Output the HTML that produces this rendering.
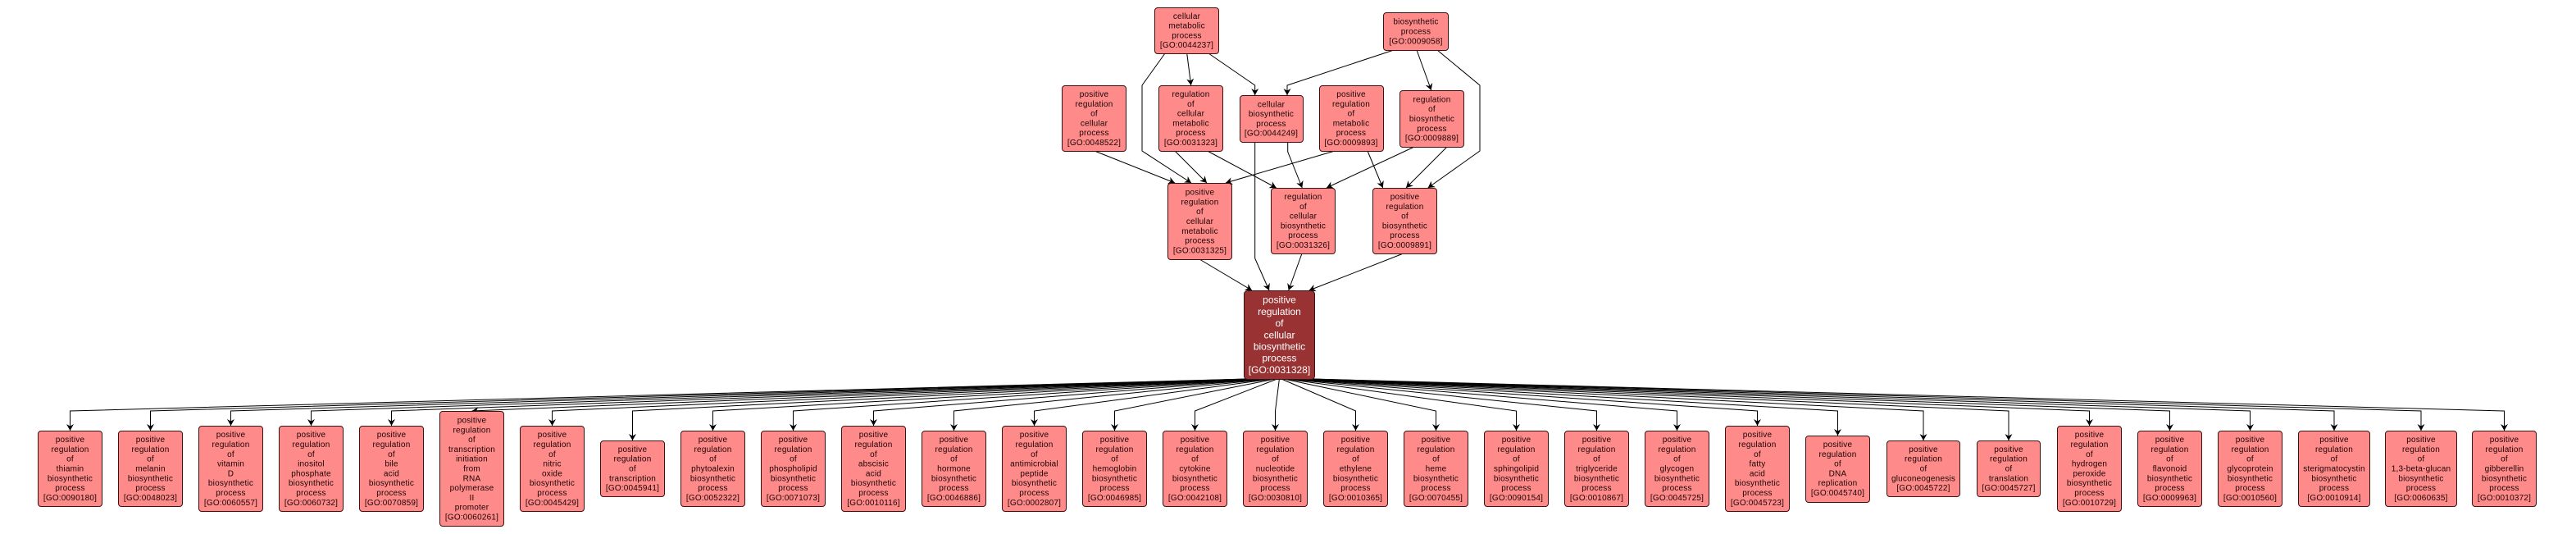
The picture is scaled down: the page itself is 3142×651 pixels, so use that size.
<!DOCTYPE html>
<html><head><meta charset="utf-8"><style>
html,body{margin:0;padding:0;background:#fff}
svg{display:block}
.n{fill:#ff8a8a;stroke:#3a1212;stroke-width:1}
.m{fill:#993333;stroke:#3a1212;stroke-width:1}
.t{font-family:"Liberation Sans",sans-serif;font-size:10px;letter-spacing:0.2px;text-anchor:middle;fill:#1a0505}
.w{font-family:"Liberation Sans",sans-serif;font-size:12px;text-anchor:middle;fill:#ffffff}
.e{fill:none;stroke:#000;stroke-width:1}
</style></head><body>
<svg width="3142" height="651" viewBox="0 0 3142 651" xmlns="http://www.w3.org/2000/svg">
<defs><marker id="a" viewBox="0 0 8 9" refX="8" refY="4.5" markerWidth="8" markerHeight="9" markerUnits="userSpaceOnUse" orient="auto"><path d="M0,0 L8,4.5 L0,9 L2.5,4.5 Z" fill="#000"/></marker></defs>
<rect width="3142" height="651" fill="#fff"/>

<!-- upper edges -->
<g class="e" marker-end="url(#a)">
<path d="M1447.7,65 L1452.7,104" marker-end="url(#a)"/>
<path d="M1474,65 L1530.7,104 L1530.7,116" marker-end="url(#a)"/>
<path d="M1421,65 L1393,104 L1393,184 L1453,223" marker-end="url(#a)"/>
<path d="M1700,61 L1570,104 L1570,116" marker-end="url(#a)"/>
<path d="M1728,61 L1745.7,110" marker-end="url(#a)"/>
<path d="M1753,61 L1805,104 L1805,184 L1741.7,229" marker-end="url(#a)"/>
<path d="M1335,184 L1433,223" marker-end="url(#a)"/>
<path d="M1433,184 L1472,223" marker-end="url(#a)"/>
<path d="M1472.7,184 L1556.7,229" marker-end="url(#a)"/>
<path d="M1628,184 L1495,223" marker-end="url(#a)"/>
<path d="M1570.7,173 L1570.7,185 L1588.3,229" marker-end="url(#a)"/>
<path d="M1668,184 L1686.7,229" marker-end="url(#a)"/>
<path d="M1725,179 L1618,229" marker-end="url(#a)"/>
<path d="M1765,179 L1715,229" marker-end="url(#a)"/>
<path d="M1530.7,173 L1530.7,315 L1548,354" marker-end="url(#a)"/>
<path d="M1463,316 L1527,354" marker-end="url(#a)"/>
<path d="M1588,309 L1571.7,354" marker-end="url(#a)"/>
<path d="M1711.7,309 L1596.7,354" marker-end="url(#a)"/>
</g>

<!-- lower edges -->
<g class="e">
<path d="M1520.7,462 L85.5,501 L85.5,525" marker-end="url(#a)"/>
<path d="M1523.3,462 L183.5,501 L183.5,525" marker-end="url(#a)"/>
<path d="M1526,462 L281.5,501 L281.5,519" marker-end="url(#a)"/>
<path d="M1528.6,462 L379.5,501 L379.5,519" marker-end="url(#a)"/>
<path d="M1531.3,462 L477.5,501 L477.5,519" marker-end="url(#a)"/>
<path d="M1533.9,462 L575.5,501" marker-end="url(#a)"/>
<path d="M1536.6,462 L673.5,501 L673.5,519" marker-end="url(#a)"/>
<path d="M1539.2,462 L771.5,501 L771.5,537" marker-end="url(#a)"/>
<path d="M1541.8,462 L869.5,501 L869.5,525" marker-end="url(#a)"/>
<path d="M1544.5,462 L967.5,501 L967.5,525" marker-end="url(#a)"/>
<path d="M1547.1,462 L1065.5,501 L1065.5,519" marker-end="url(#a)"/>
<path d="M1549.8,462 L1163.5,501 L1163.5,525" marker-end="url(#a)"/>
<path d="M1552.4,462 L1261.5,501 L1261.5,519" marker-end="url(#a)"/>
<path d="M1555.1,462 L1359.5,501 L1359.5,525" marker-end="url(#a)"/>
<path d="M1557.7,462 L1457.5,501 L1457.5,525" marker-end="url(#a)"/>
<path d="M1560.4,462 L1555.5,501 L1555.5,525" marker-end="url(#a)"/>
<path d="M1563,462 L1653.5,501 L1653.5,525" marker-end="url(#a)"/>
<path d="M1565.7,462 L1751.5,501 L1751.5,525" marker-end="url(#a)"/>
<path d="M1568.3,462 L1849.5,501 L1849.5,525" marker-end="url(#a)"/>
<path d="M1570.9,462 L1947.5,501 L1947.5,525" marker-end="url(#a)"/>
<path d="M1573.6,462 L2045.5,501 L2045.5,525" marker-end="url(#a)"/>
<path d="M1576.2,462 L2143.5,501 L2143.5,519" marker-end="url(#a)"/>
<path d="M1578.9,462 L2241.5,501 L2241.5,531" marker-end="url(#a)"/>
<path d="M1581.7,462 L2346,501 L2346,537" marker-end="url(#a)"/>
<path d="M1584.5,462 L2450,501 L2450,537" marker-end="url(#a)"/>
<path d="M1587.2,462 L2548.5,501 L2548.5,519" marker-end="url(#a)"/>
<path d="M1589.8,462 L2646.5,501 L2646.5,525" marker-end="url(#a)"/>
<path d="M1592.5,462 L2744.5,501 L2744.5,525" marker-end="url(#a)"/>
<path d="M1595.2,462 L2847,501 L2847,525" marker-end="url(#a)"/>
<path d="M1598.1,462 L2953,501 L2953,525" marker-end="url(#a)"/>
<path d="M1600.8,462 L3054.5,501 L3054.5,525" marker-end="url(#a)"/>
</g>

<!-- upper nodes -->
<rect class="n" x="1408.5" y="9.5" width="78" height="56" rx="3.5"/>
<text class="t" x="1447.5" y="22.8"><tspan x="1447.5">cellular</tspan><tspan x="1447.5" dy="11.8">metabolic</tspan><tspan x="1447.5" dy="11.8">process</tspan><tspan x="1447.5" dy="11.8">[GO:0044237]</tspan></text>

<rect class="n" x="1687.5" y="15.5" width="79" height="46" rx="3.5"/>
<text class="t" x="1727" y="29.7"><tspan x="1727">biosynthetic</tspan><tspan x="1727" dy="11.8">process</tspan><tspan x="1727" dy="11.8">[GO:0009058]</tspan></text>

<rect class="n" x="1295.5" y="104.5" width="78" height="80" rx="3.5"/>
<text class="t" x="1334.5" y="118"><tspan x="1334.5">positive</tspan><tspan x="1334.5" dy="11.8">regulation</tspan><tspan x="1334.5" dy="11.8">of</tspan><tspan x="1334.5" dy="11.8">cellular</tspan><tspan x="1334.5" dy="11.8">process</tspan><tspan x="1334.5" dy="11.8">[GO:0048522]</tspan></text>

<rect class="n" x="1413.5" y="104.5" width="78" height="80" rx="3.5"/>
<text class="t" x="1452.5" y="118"><tspan x="1452.5">regulation</tspan><tspan x="1452.5" dy="11.8">of</tspan><tspan x="1452.5" dy="11.8">cellular</tspan><tspan x="1452.5" dy="11.8">metabolic</tspan><tspan x="1452.5" dy="11.8">process</tspan><tspan x="1452.5" dy="11.8">[GO:0031323]</tspan></text>

<rect class="n" x="1512.5" y="116.5" width="77" height="57" rx="3.5"/>
<text class="t" x="1550.5" y="130.3"><tspan x="1550.5">cellular</tspan><tspan x="1550.5" dy="11.8">biosynthetic</tspan><tspan x="1550.5" dy="11.8">process</tspan><tspan x="1550.5" dy="11.8">[GO:0044249]</tspan></text>

<rect class="n" x="1609.5" y="104.5" width="78" height="80" rx="3.5"/>
<text class="t" x="1648" y="118"><tspan x="1648">positive</tspan><tspan x="1648" dy="11.8">regulation</tspan><tspan x="1648" dy="11.8">of</tspan><tspan x="1648" dy="11.8">metabolic</tspan><tspan x="1648" dy="11.8">process</tspan><tspan x="1648" dy="11.8">[GO:0009893]</tspan></text>

<rect class="n" x="1707.5" y="110.5" width="78" height="69" rx="3.5"/>
<text class="t" x="1746.5" y="124.4"><tspan x="1746.5">regulation</tspan><tspan x="1746.5" dy="11.8">of</tspan><tspan x="1746.5" dy="11.8">biosynthetic</tspan><tspan x="1746.5" dy="11.8">process</tspan><tspan x="1746.5" dy="11.8">[GO:0009889]</tspan></text>

<rect class="n" x="1424.5" y="223.5" width="78" height="93" rx="3.5"/>
<text class="t" x="1463.5" y="237.6"><tspan x="1463.5">positive</tspan><tspan x="1463.5" dy="11.8">regulation</tspan><tspan x="1463.5" dy="11.8">of</tspan><tspan x="1463.5" dy="11.8">cellular</tspan><tspan x="1463.5" dy="11.8">metabolic</tspan><tspan x="1463.5" dy="11.8">process</tspan><tspan x="1463.5" dy="11.8">[GO:0031325]</tspan></text>

<rect class="n" x="1550.5" y="229.5" width="78" height="80" rx="3.5"/>
<text class="t" x="1589.5" y="243"><tspan x="1589.5">regulation</tspan><tspan x="1589.5" dy="11.8">of</tspan><tspan x="1589.5" dy="11.8">cellular</tspan><tspan x="1589.5" dy="11.8">biosynthetic</tspan><tspan x="1589.5" dy="11.8">process</tspan><tspan x="1589.5" dy="11.8">[GO:0031326]</tspan></text>

<rect class="n" x="1674.5" y="229.5" width="78" height="80" rx="3.5"/>
<text class="t" x="1713.5" y="243"><tspan x="1713.5">positive</tspan><tspan x="1713.5" dy="11.8">regulation</tspan><tspan x="1713.5" dy="11.8">of</tspan><tspan x="1713.5" dy="11.8">biosynthetic</tspan><tspan x="1713.5" dy="11.8">process</tspan><tspan x="1713.5" dy="11.8">[GO:0009891]</tspan></text>

<rect class="m" x="1517.5" y="354.5" width="86" height="108" rx="4"/>
<text class="w" x="1560.5" y="369.7"><tspan x="1560.5">positive</tspan><tspan x="1560.5" dy="14.2">regulation</tspan><tspan x="1560.5" dy="14.2">of</tspan><tspan x="1560.5" dy="14.2">cellular</tspan><tspan x="1560.5" dy="14.2">biosynthetic</tspan><tspan x="1560.5" dy="14.2">process</tspan><tspan x="1560.5" dy="14.2">[GO:0031328]</tspan></text>

<!-- bottom nodes -->
<rect class="n" x="46.5" y="525.5" width="78" height="92" rx="3.5"/>
<text class="t" x="85.5" y="539.1"><tspan x="85.5">positive</tspan><tspan x="85.5" dy="11.8">regulation</tspan><tspan x="85.5" dy="11.8">of</tspan><tspan x="85.5" dy="11.8">thiamin</tspan><tspan x="85.5" dy="11.8">biosynthetic</tspan><tspan x="85.5" dy="11.8">process</tspan><tspan x="85.5" dy="11.8">[GO:0090180]</tspan></text>

<rect class="n" x="144.5" y="525.5" width="78" height="92" rx="3.5"/>
<text class="t" x="183.5" y="539.1"><tspan x="183.5">positive</tspan><tspan x="183.5" dy="11.8">regulation</tspan><tspan x="183.5" dy="11.8">of</tspan><tspan x="183.5" dy="11.8">melanin</tspan><tspan x="183.5" dy="11.8">biosynthetic</tspan><tspan x="183.5" dy="11.8">process</tspan><tspan x="183.5" dy="11.8">[GO:0048023]</tspan></text>

<rect class="n" x="242.5" y="519.5" width="78" height="104" rx="3.5"/>
<text class="t" x="281.5" y="533.2"><tspan x="281.5">positive</tspan><tspan x="281.5" dy="11.8">regulation</tspan><tspan x="281.5" dy="11.8">of</tspan><tspan x="281.5" dy="11.8">vitamin</tspan><tspan x="281.5" dy="11.8">D</tspan><tspan x="281.5" dy="11.8">biosynthetic</tspan><tspan x="281.5" dy="11.8">process</tspan><tspan x="281.5" dy="11.8">[GO:0060557]</tspan></text>

<rect class="n" x="340.5" y="519.5" width="78" height="104" rx="3.5"/>
<text class="t" x="379.5" y="533.2"><tspan x="379.5">positive</tspan><tspan x="379.5" dy="11.8">regulation</tspan><tspan x="379.5" dy="11.8">of</tspan><tspan x="379.5" dy="11.8">inositol</tspan><tspan x="379.5" dy="11.8">phosphate</tspan><tspan x="379.5" dy="11.8">biosynthetic</tspan><tspan x="379.5" dy="11.8">process</tspan><tspan x="379.5" dy="11.8">[GO:0060732]</tspan></text>

<rect class="n" x="438.5" y="519.5" width="78" height="104" rx="3.5"/>
<text class="t" x="477.5" y="533.2"><tspan x="477.5">positive</tspan><tspan x="477.5" dy="11.8">regulation</tspan><tspan x="477.5" dy="11.8">of</tspan><tspan x="477.5" dy="11.8">bile</tspan><tspan x="477.5" dy="11.8">acid</tspan><tspan x="477.5" dy="11.8">biosynthetic</tspan><tspan x="477.5" dy="11.8">process</tspan><tspan x="477.5" dy="11.8">[GO:0070859]</tspan></text>

<rect class="n" x="536.5" y="501.5" width="78" height="140" rx="3.5"/>
<text class="t" x="575.5" y="515.5"><tspan x="575.5">positive</tspan><tspan x="575.5" dy="11.8">regulation</tspan><tspan x="575.5" dy="11.8">of</tspan><tspan x="575.5" dy="11.8">transcription</tspan><tspan x="575.5" dy="11.8">initiation</tspan><tspan x="575.5" dy="11.8">from</tspan><tspan x="575.5" dy="11.8">RNA</tspan><tspan x="575.5" dy="11.8">polymerase</tspan><tspan x="575.5" dy="11.8">II</tspan><tspan x="575.5" dy="11.8">promoter</tspan><tspan x="575.5" dy="11.8">[GO:0060261]</tspan></text>

<rect class="n" x="634.5" y="519.5" width="78" height="104" rx="3.5"/>
<text class="t" x="673.5" y="533.2"><tspan x="673.5">positive</tspan><tspan x="673.5" dy="11.8">regulation</tspan><tspan x="673.5" dy="11.8">of</tspan><tspan x="673.5" dy="11.8">nitric</tspan><tspan x="673.5" dy="11.8">oxide</tspan><tspan x="673.5" dy="11.8">biosynthetic</tspan><tspan x="673.5" dy="11.8">process</tspan><tspan x="673.5" dy="11.8">[GO:0045429]</tspan></text>

<rect class="n" x="732.5" y="537.5" width="78" height="68" rx="3.5"/>
<text class="t" x="771.5" y="550.9"><tspan x="771.5">positive</tspan><tspan x="771.5" dy="11.8">regulation</tspan><tspan x="771.5" dy="11.8">of</tspan><tspan x="771.5" dy="11.8">transcription</tspan><tspan x="771.5" dy="11.8">[GO:0045941]</tspan></text>

<rect class="n" x="830.5" y="525.5" width="78" height="92" rx="3.5"/>
<text class="t" x="869.5" y="539.1"><tspan x="869.5">positive</tspan><tspan x="869.5" dy="11.8">regulation</tspan><tspan x="869.5" dy="11.8">of</tspan><tspan x="869.5" dy="11.8">phytoalexin</tspan><tspan x="869.5" dy="11.8">biosynthetic</tspan><tspan x="869.5" dy="11.8">process</tspan><tspan x="869.5" dy="11.8">[GO:0052322]</tspan></text>

<rect class="n" x="928.5" y="525.5" width="78" height="92" rx="3.5"/>
<text class="t" x="967.5" y="539.1"><tspan x="967.5">positive</tspan><tspan x="967.5" dy="11.8">regulation</tspan><tspan x="967.5" dy="11.8">of</tspan><tspan x="967.5" dy="11.8">phospholipid</tspan><tspan x="967.5" dy="11.8">biosynthetic</tspan><tspan x="967.5" dy="11.8">process</tspan><tspan x="967.5" dy="11.8">[GO:0071073]</tspan></text>

<rect class="n" x="1026.5" y="519.5" width="78" height="104" rx="3.5"/>
<text class="t" x="1065.5" y="533.2"><tspan x="1065.5">positive</tspan><tspan x="1065.5" dy="11.8">regulation</tspan><tspan x="1065.5" dy="11.8">of</tspan><tspan x="1065.5" dy="11.8">abscisic</tspan><tspan x="1065.5" dy="11.8">acid</tspan><tspan x="1065.5" dy="11.8">biosynthetic</tspan><tspan x="1065.5" dy="11.8">process</tspan><tspan x="1065.5" dy="11.8">[GO:0010116]</tspan></text>

<rect class="n" x="1124.5" y="525.5" width="78" height="92" rx="3.5"/>
<text class="t" x="1163.5" y="539.1"><tspan x="1163.5">positive</tspan><tspan x="1163.5" dy="11.8">regulation</tspan><tspan x="1163.5" dy="11.8">of</tspan><tspan x="1163.5" dy="11.8">hormone</tspan><tspan x="1163.5" dy="11.8">biosynthetic</tspan><tspan x="1163.5" dy="11.8">process</tspan><tspan x="1163.5" dy="11.8">[GO:0046886]</tspan></text>

<rect class="n" x="1222.5" y="519.5" width="78" height="104" rx="3.5"/>
<text class="t" x="1261.5" y="533.2"><tspan x="1261.5">positive</tspan><tspan x="1261.5" dy="11.8">regulation</tspan><tspan x="1261.5" dy="11.8">of</tspan><tspan x="1261.5" dy="11.8">antimicrobial</tspan><tspan x="1261.5" dy="11.8">peptide</tspan><tspan x="1261.5" dy="11.8">biosynthetic</tspan><tspan x="1261.5" dy="11.8">process</tspan><tspan x="1261.5" dy="11.8">[GO:0002807]</tspan></text>

<rect class="n" x="1320.5" y="525.5" width="78" height="92" rx="3.5"/>
<text class="t" x="1359.5" y="539.1"><tspan x="1359.5">positive</tspan><tspan x="1359.5" dy="11.8">regulation</tspan><tspan x="1359.5" dy="11.8">of</tspan><tspan x="1359.5" dy="11.8">hemoglobin</tspan><tspan x="1359.5" dy="11.8">biosynthetic</tspan><tspan x="1359.5" dy="11.8">process</tspan><tspan x="1359.5" dy="11.8">[GO:0046985]</tspan></text>

<rect class="n" x="1418.5" y="525.5" width="78" height="92" rx="3.5"/>
<text class="t" x="1457.5" y="539.1"><tspan x="1457.5">positive</tspan><tspan x="1457.5" dy="11.8">regulation</tspan><tspan x="1457.5" dy="11.8">of</tspan><tspan x="1457.5" dy="11.8">cytokine</tspan><tspan x="1457.5" dy="11.8">biosynthetic</tspan><tspan x="1457.5" dy="11.8">process</tspan><tspan x="1457.5" dy="11.8">[GO:0042108]</tspan></text>

<rect class="n" x="1516.5" y="525.5" width="78" height="92" rx="3.5"/>
<text class="t" x="1555.5" y="539.1"><tspan x="1555.5">positive</tspan><tspan x="1555.5" dy="11.8">regulation</tspan><tspan x="1555.5" dy="11.8">of</tspan><tspan x="1555.5" dy="11.8">nucleotide</tspan><tspan x="1555.5" dy="11.8">biosynthetic</tspan><tspan x="1555.5" dy="11.8">process</tspan><tspan x="1555.5" dy="11.8">[GO:0030810]</tspan></text>

<rect class="n" x="1614.5" y="525.5" width="78" height="92" rx="3.5"/>
<text class="t" x="1653.5" y="539.1"><tspan x="1653.5">positive</tspan><tspan x="1653.5" dy="11.8">regulation</tspan><tspan x="1653.5" dy="11.8">of</tspan><tspan x="1653.5" dy="11.8">ethylene</tspan><tspan x="1653.5" dy="11.8">biosynthetic</tspan><tspan x="1653.5" dy="11.8">process</tspan><tspan x="1653.5" dy="11.8">[GO:0010365]</tspan></text>

<rect class="n" x="1712.5" y="525.5" width="78" height="92" rx="3.5"/>
<text class="t" x="1751.5" y="539.1"><tspan x="1751.5">positive</tspan><tspan x="1751.5" dy="11.8">regulation</tspan><tspan x="1751.5" dy="11.8">of</tspan><tspan x="1751.5" dy="11.8">heme</tspan><tspan x="1751.5" dy="11.8">biosynthetic</tspan><tspan x="1751.5" dy="11.8">process</tspan><tspan x="1751.5" dy="11.8">[GO:0070455]</tspan></text>

<rect class="n" x="1810.5" y="525.5" width="78" height="92" rx="3.5"/>
<text class="t" x="1849.5" y="539.1"><tspan x="1849.5">positive</tspan><tspan x="1849.5" dy="11.8">regulation</tspan><tspan x="1849.5" dy="11.8">of</tspan><tspan x="1849.5" dy="11.8">sphingolipid</tspan><tspan x="1849.5" dy="11.8">biosynthetic</tspan><tspan x="1849.5" dy="11.8">process</tspan><tspan x="1849.5" dy="11.8">[GO:0090154]</tspan></text>

<rect class="n" x="1908.5" y="525.5" width="78" height="92" rx="3.5"/>
<text class="t" x="1947.5" y="539.1"><tspan x="1947.5">positive</tspan><tspan x="1947.5" dy="11.8">regulation</tspan><tspan x="1947.5" dy="11.8">of</tspan><tspan x="1947.5" dy="11.8">triglyceride</tspan><tspan x="1947.5" dy="11.8">biosynthetic</tspan><tspan x="1947.5" dy="11.8">process</tspan><tspan x="1947.5" dy="11.8">[GO:0010867]</tspan></text>

<rect class="n" x="2006.5" y="525.5" width="78" height="92" rx="3.5"/>
<text class="t" x="2045.5" y="539.1"><tspan x="2045.5">positive</tspan><tspan x="2045.5" dy="11.8">regulation</tspan><tspan x="2045.5" dy="11.8">of</tspan><tspan x="2045.5" dy="11.8">glycogen</tspan><tspan x="2045.5" dy="11.8">biosynthetic</tspan><tspan x="2045.5" dy="11.8">process</tspan><tspan x="2045.5" dy="11.8">[GO:0045725]</tspan></text>

<rect class="n" x="2104.5" y="519.5" width="78" height="104" rx="3.5"/>
<text class="t" x="2143.5" y="533.2"><tspan x="2143.5">positive</tspan><tspan x="2143.5" dy="11.8">regulation</tspan><tspan x="2143.5" dy="11.8">of</tspan><tspan x="2143.5" dy="11.8">fatty</tspan><tspan x="2143.5" dy="11.8">acid</tspan><tspan x="2143.5" dy="11.8">biosynthetic</tspan><tspan x="2143.5" dy="11.8">process</tspan><tspan x="2143.5" dy="11.8">[GO:0045723]</tspan></text>

<rect class="n" x="2202.5" y="531.5" width="78" height="81" rx="3.5"/>
<text class="t" x="2241.5" y="545"><tspan x="2241.5">positive</tspan><tspan x="2241.5" dy="11.8">regulation</tspan><tspan x="2241.5" dy="11.8">of</tspan><tspan x="2241.5" dy="11.8">DNA</tspan><tspan x="2241.5" dy="11.8">replication</tspan><tspan x="2241.5" dy="11.8">[GO:0045740]</tspan></text>

<rect class="n" x="2301.5" y="537.5" width="89" height="68" rx="3.5"/>
<text class="t" x="2346" y="550.9"><tspan x="2346">positive</tspan><tspan x="2346" dy="11.8">regulation</tspan><tspan x="2346" dy="11.8">of</tspan><tspan x="2346" dy="11.8">gluconeogenesis</tspan><tspan x="2346" dy="11.8">[GO:0045722]</tspan></text>

<rect class="n" x="2411.5" y="537.5" width="77" height="68" rx="3.5"/>
<text class="t" x="2450" y="550.9"><tspan x="2450">positive</tspan><tspan x="2450" dy="11.8">regulation</tspan><tspan x="2450" dy="11.8">of</tspan><tspan x="2450" dy="11.8">translation</tspan><tspan x="2450" dy="11.8">[GO:0045727]</tspan></text>

<rect class="n" x="2509.5" y="519.5" width="78" height="104" rx="3.5"/>
<text class="t" x="2548.5" y="533.2"><tspan x="2548.5">positive</tspan><tspan x="2548.5" dy="11.8">regulation</tspan><tspan x="2548.5" dy="11.8">of</tspan><tspan x="2548.5" dy="11.8">hydrogen</tspan><tspan x="2548.5" dy="11.8">peroxide</tspan><tspan x="2548.5" dy="11.8">biosynthetic</tspan><tspan x="2548.5" dy="11.8">process</tspan><tspan x="2548.5" dy="11.8">[GO:0010729]</tspan></text>

<rect class="n" x="2607.5" y="525.5" width="78" height="92" rx="3.5"/>
<text class="t" x="2646.5" y="539.1"><tspan x="2646.5">positive</tspan><tspan x="2646.5" dy="11.8">regulation</tspan><tspan x="2646.5" dy="11.8">of</tspan><tspan x="2646.5" dy="11.8">flavonoid</tspan><tspan x="2646.5" dy="11.8">biosynthetic</tspan><tspan x="2646.5" dy="11.8">process</tspan><tspan x="2646.5" dy="11.8">[GO:0009963]</tspan></text>

<rect class="n" x="2705.5" y="525.5" width="78" height="92" rx="3.5"/>
<text class="t" x="2744.5" y="539.1"><tspan x="2744.5">positive</tspan><tspan x="2744.5" dy="11.8">regulation</tspan><tspan x="2744.5" dy="11.8">of</tspan><tspan x="2744.5" dy="11.8">glycoprotein</tspan><tspan x="2744.5" dy="11.8">biosynthetic</tspan><tspan x="2744.5" dy="11.8">process</tspan><tspan x="2744.5" dy="11.8">[GO:0010560]</tspan></text>

<rect class="n" x="2803.5" y="525.5" width="87" height="92" rx="3.5"/>
<text class="t" x="2847" y="539.1"><tspan x="2847">positive</tspan><tspan x="2847" dy="11.8">regulation</tspan><tspan x="2847" dy="11.8">of</tspan><tspan x="2847" dy="11.8">sterigmatocystin</tspan><tspan x="2847" dy="11.8">biosynthetic</tspan><tspan x="2847" dy="11.8">process</tspan><tspan x="2847" dy="11.8">[GO:0010914]</tspan></text>

<rect class="n" x="2909.5" y="525.5" width="87" height="92" rx="3.5"/>
<text class="t" x="2953" y="539.1"><tspan x="2953">positive</tspan><tspan x="2953" dy="11.8">regulation</tspan><tspan x="2953" dy="11.8">of</tspan><tspan x="2953" dy="11.8">1,3-beta-glucan</tspan><tspan x="2953" dy="11.8">biosynthetic</tspan><tspan x="2953" dy="11.8">process</tspan><tspan x="2953" dy="11.8">[GO:0060635]</tspan></text>

<rect class="n" x="3015.5" y="525.5" width="78" height="92" rx="3.5"/>
<text class="t" x="3054.5" y="539.1"><tspan x="3054.5">positive</tspan><tspan x="3054.5" dy="11.8">regulation</tspan><tspan x="3054.5" dy="11.8">of</tspan><tspan x="3054.5" dy="11.8">gibberellin</tspan><tspan x="3054.5" dy="11.8">biosynthetic</tspan><tspan x="3054.5" dy="11.8">process</tspan><tspan x="3054.5" dy="11.8">[GO:0010372]</tspan></text>
</svg>
</body></html>
